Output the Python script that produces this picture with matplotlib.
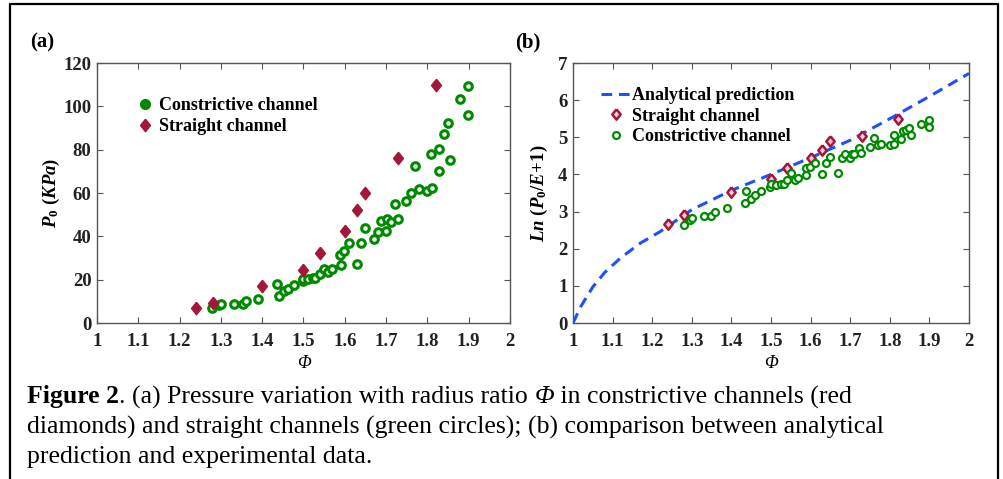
import numpy as np
import matplotlib
matplotlib.use('Agg')
import matplotlib.pyplot as plt
from matplotlib.lines import Line2D

plt.rcParams['font.family'] = ['Liberation Serif', 'DejaVu Serif']
plt.rcParams['mathtext.fontset'] = 'custom'
plt.rcParams['mathtext.rm'] = 'Liberation Serif:bold'
plt.rcParams['mathtext.it'] = 'Liberation Serif:italic:bold'
plt.rcParams['mathtext.bf'] = 'Liberation Serif:bold'

# ---- panel (a) data ----
phi_str = [1.24, 1.28, 1.40, 1.50, 1.54, 1.60, 1.63, 1.65, 1.73, 1.82]
p0_str = [7.1, 9.4, 17.0, 24.3, 32.3, 42.3, 52.0, 60.0, 76.3, 110.0]

phi_con = [1.279, 1.296, 1.301, 1.331, 1.353, 1.361, 1.391, 1.436, 1.441, 1.453,
           1.463, 1.476, 1.498, 1.500, 1.510, 1.524, 1.529, 1.540, 1.550, 1.560,
           1.570, 1.590, 1.589, 1.599, 1.609, 1.630, 1.640, 1.650, 1.670, 1.680,
           1.688, 1.700, 1.703, 1.711, 1.730, 1.722, 1.749, 1.760, 1.769, 1.780,
           1.800, 1.811, 1.809, 1.829, 1.829, 1.839, 1.849, 1.855, 1.879, 1.899,
           1.899]
p0_con = [6.9, 8.2, 8.9, 8.9, 8.9, 10.2, 11.2, 17.8, 12.6, 14.8,
          15.8, 17.7, 19.4, 20.5, 20.5, 20.9, 20.9, 22.8, 24.8, 23.5,
          24.8, 26.6, 31.5, 33.1, 37.1, 27.1, 37.1, 43.8, 38.9, 42.0,
          47.1, 42.5, 48.2, 46.6, 48.2, 55.1, 56.3, 60.0, 72.3, 62.0,
          60.9, 62.3, 78.2, 80.2, 70.2, 87.1, 92.3, 75.1, 103.2, 109.2,
          96.2]

# ---- panel (b) data ----
phi_str_b = [1.24, 1.28, 1.40, 1.50, 1.54, 1.60, 1.63, 1.65, 1.73, 1.82]
ln_str = [2.66, 2.90, 3.53, 3.89, 4.18, 4.45, 4.67, 4.89, 5.03, 5.48]

phi_con_b = [1.280, 1.295, 1.301, 1.330, 1.349, 1.359, 1.390, 1.438, 1.435, 1.450,
             1.459, 1.476, 1.498, 1.501, 1.512, 1.526, 1.532, 1.541, 1.550, 1.561,
             1.569, 1.589, 1.589, 1.599, 1.610, 1.630, 1.638, 1.650, 1.669, 1.679,
             1.688, 1.699, 1.704, 1.709, 1.722, 1.728, 1.749, 1.759, 1.770, 1.778,
             1.800, 1.810, 1.810, 1.829, 1.833, 1.842, 1.848, 1.854, 1.878, 1.899,
             1.899]
ln_con = [2.64, 2.78, 2.84, 2.87, 2.87, 3.00, 3.10, 3.55, 3.23, 3.33,
          3.45, 3.55, 3.66, 3.75, 3.71, 3.73, 3.75, 3.84, 4.05, 3.86,
          3.91, 3.98, 4.16, 4.20, 4.32, 4.00, 4.31, 4.47, 4.04, 4.44,
          4.56, 4.45, 4.54, 4.56, 4.72, 4.58, 4.74, 4.99, 4.80, 4.83,
          4.80, 4.83, 5.07, 4.95, 5.16, 5.19, 5.26, 5.07, 5.37, 5.46,
          5.28]

# analytical curve, points
phi_ana = [1.0, 1.02, 1.05, 1.08, 1.12, 1.17, 1.22, 1.30, 1.40, 1.50,
           1.60, 1.70, 1.80, 1.90, 2.0]
ln_ana = [0.0, 0.45, 0.97, 1.36, 1.75, 2.15, 2.46, 3.05, 3.57, 4.0,
          4.45, 4.92, 5.5, 6.1, 6.72]

xticklabs = ['1', '1.1', '1.2', '1.3', '1.4', '1.5', '1.6', '1.7', '1.8', '1.9', '2']

green = '#008a00'
red = '#a3173a'
blue = '#1f4fff'
spine_c = '#555555'
diamond = [(0, 1), (0.8, 0), (0, -1), (-0.8, 0), (0, 1)]

fig = plt.figure(figsize=(10.04, 4.79), dpi=100)
axa = fig.add_axes([97/1004, 1-323/479, 413/1004, 260/479])
axb = fig.add_axes([573/1004, 1-323/479, 396/1004, 260/479])


def style_axes(ax):
    for s in ax.spines.values():
        s.set_color(spine_c)
        s.set_linewidth(1.0)
    ax.tick_params(direction='in', top=True, right=True, length=4,
                   color=spine_c, labelsize=13.5, pad=4)
    ax.tick_params(axis='x', pad=7)
    for lab in ax.get_xticklabels() + ax.get_yticklabels():
        lab.set_fontweight('bold')
        lab.set_color('#222222')


# panel (a)
axa.plot(phi_con, p0_con, 'o', ls='none', ms=5.5, mfc='white', mec=green, mew=2.2)
axa.plot(phi_str, p0_str, marker=diamond, ls='none', ms=9, mfc=red, mec=red, mew=1)
axa.set_xlim(1, 2)
axa.set_ylim(0, 120)
axa.set_xticks(np.arange(1, 2.01, 0.1))
axa.set_xticklabels(xticklabs)
axa.set_yticks(np.arange(0, 121, 20))
style_axes(axa)
axa.set_xlabel('\u03a6', fontsize=13, fontstyle='italic', labelpad=4)
axa.set_ylabel(r'$P_0\ (KPa)$', fontsize=13.5, labelpad=1)
ha = [Line2D([], [], marker='o', ls='none', ms=7, mfc=green, mec=green),
      Line2D([], [], marker=diamond, ls='none', ms=9, mfc=red, mec=red)]
axa.legend(ha, ['Constrictive channel', 'Straight channel'], loc='upper left',
           bbox_to_anchor=(0.06, 0.93), frameon=False, handlelength=0.8,
           handletextpad=0.35, labelspacing=0.22, prop={'weight': 'bold', 'size': 13})

# panel (b)
axb.plot(phi_ana, ln_ana, '--', color=blue, lw=2.2, dashes=(3.5, 2.2))
axb.plot(phi_str_b, ln_str, marker=diamond, ls='none', ms=7.5, mfc='#f3c9d2', mec=red, mew=1.8)
axb.plot(phi_con_b, ln_con, 'o', ls='none', ms=5, mfc='white', mec=green, mew=1.6)
axb.set_xlim(1, 2)
axb.set_ylim(0, 7)
axb.set_xticks(np.arange(1, 2.01, 0.1))
axb.set_xticklabels(xticklabs)
axb.set_yticks(range(0, 8))
style_axes(axb)
axb.set_xlabel('\u03a6', fontsize=13, fontstyle='italic', labelpad=4)
axb.set_ylabel(r'$Ln\ (P_0/E\!+\!1)$', fontsize=13.5, labelpad=6)
hb = [Line2D([], [], ls='--', color=blue, lw=2.2, dashes=(3.5, 2.2)),
      Line2D([], [], marker=diamond, ls='none', ms=7.5, mfc='#f3c9d2', mec=red, mew=1.8),
      Line2D([], [], marker='o', ls='none', ms=5, mfc='white', mec=green, mew=1.6)]
axb.legend(hb, ['Analytical prediction', 'Straight channel', 'Constrictive channel'],
           loc='upper left', bbox_to_anchor=(0.03, 0.97), frameon=False,
           handlelength=1.6, handletextpad=0.1, labelspacing=0.2,
           prop={'weight': 'bold', 'size': 13})

# panel letters
fig.text(30/1004, 1-42/479, '(a)', fontsize=15, fontweight='bold', va='center')
fig.text(515/1004, 1-42/479, '(b)', fontsize=15, fontweight='bold', va='center')

# outer frame
fig.add_artist(Line2D([10/1004, 10/1004, 998/1004, 998/1004],
                      [0, 1-4/479, 1-4/479, 0], color='black', lw=1.6,
                      transform=fig.transFigure))

# caption
renderer = fig.canvas.get_renderer()


def seg_line(x, y, segs, size=18.5):
    for txt, w, st in segs:
        t = fig.text(x, y, txt, fontsize=size, fontweight=w, fontstyle=st,
                     va='center', ha='left')
        bb = t.get_window_extent(renderer)
        x = bb.x1 / fig.bbox.width


seg_line(27/1004, 1-397/479, [('Figure 2', 'bold', 'normal'),
                              ('. (a) Pressure variation with radius ratio ', 'normal', 'normal'),
                              ('\u03a6', 'normal', 'italic'),
                              (' in constrictive channels (red', 'normal', 'normal')])
seg_line(27/1004, 1-427/479, [('diamonds) and straight channels (green circles); (b) comparison between analytical',
                               'normal', 'normal')])
seg_line(27/1004, 1-457/479, [('prediction and experimental data.', 'normal', 'normal')])

fig.savefig('out.png', dpi=100)
